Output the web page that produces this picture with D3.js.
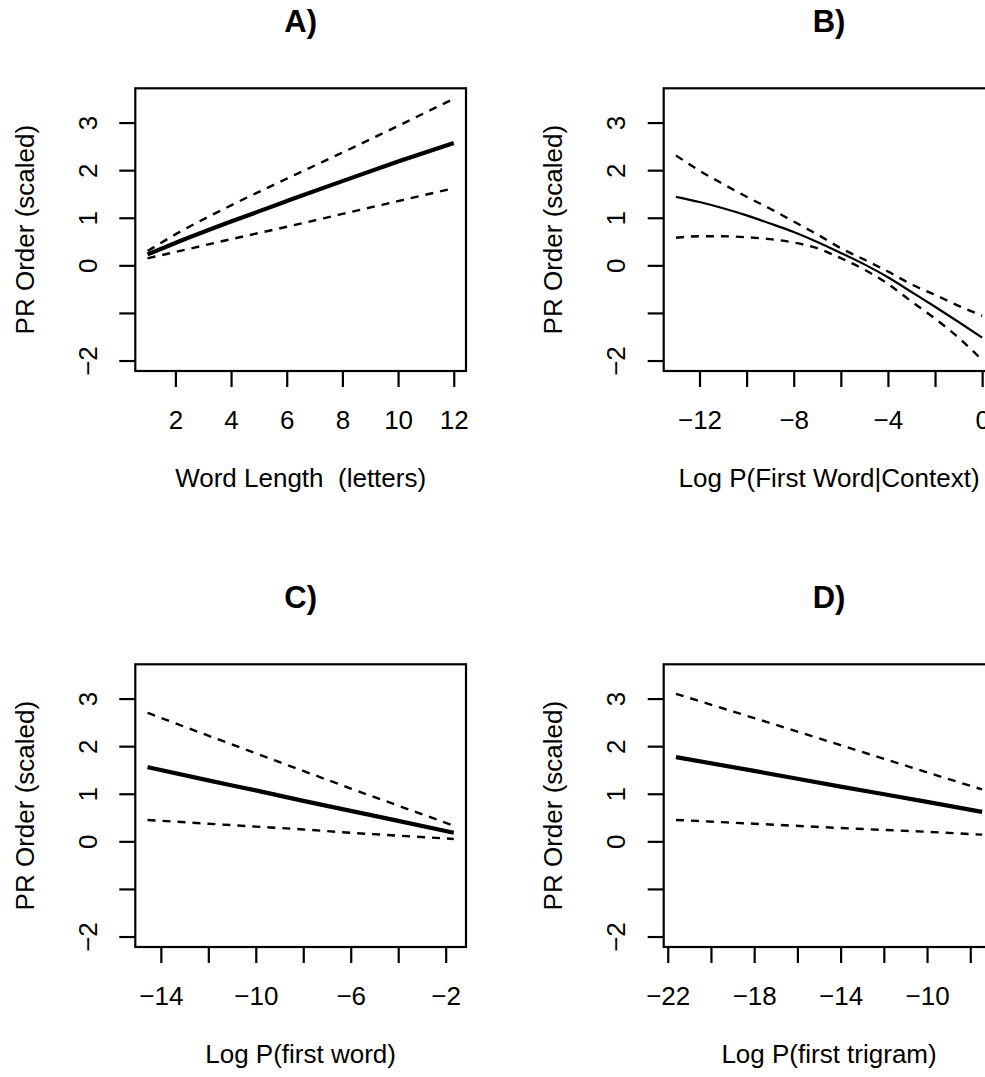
<!DOCTYPE html>
<html>
<head>
<meta charset="utf-8">
<script src="https://cdnjs.cloudflare.com/ajax/libs/d3/7.8.5/d3.min.js"></script>
<style>
body{margin:0;background:#fff;}
svg{display:block;background:#fff;}
text{font-family:'Liberation Sans',Arial,Helvetica,sans-serif;fill:#000;}
</style>
</head>
<body>
<svg id="panels" width="985" height="1077"></svg>
<script>

// shared y axis
var yLimits = [-2, 3.5];
var yTicks = [-2, -1, 0, 1, 2, 3];
var yTickLabels = ['\u22122', '', '0', '1', '2', '3'];
var yTitle = 'PR Order (scaled)';

// A) word length
var lengthX     = [1, 2, 4, 6, 8, 10, 12];
var lengthFit   = [0.23, 0.47, 0.92, 1.35, 1.77, 2.18, 2.57];
var lengthUpper = [0.30, 0.65, 1.26, 1.82, 2.37, 2.93, 3.50];
var lengthLower = [0.15, 0.28, 0.55, 0.81, 1.08, 1.35, 1.62];
var lengthTicks = [2, 4, 6, 8, 10, 12];
var lengthTickLabels = ['2', '4', '6', '8', '10', '12'];

// B) log P(first word | context)
var contextX     = [-13, -12, -11, -10, -9, -8, -7, -6, -5, -4, -3, -2, -1, 0];
var contextFit   = [1.44, 1.33, 1.20, 1.05, 0.88, 0.70, 0.49, 0.26, 0.02, -0.25, -0.56, -0.87, -1.19, -1.52];
var contextUpper = [2.31, 1.99, 1.71, 1.44, 1.19, 0.92, 0.65, 0.36, 0.12, -0.13, -0.40, -0.62, -0.85, -1.06];
var contextLower = [0.58, 0.61, 0.61, 0.59, 0.55, 0.48, 0.36, 0.15, -0.09, -0.39, -0.76, -1.12, -1.52, -1.99];
var contextTicks = [-12, -10, -8, -6, -4, -2, 0];
var contextTickLabels = ['\u221212', '', '\u22128', '', '\u22124', '', '0'];

// C) log P(first word)
var wordX     = [-14.56, -12, -10, -8, -6, -4, -1.66];
var wordFit   = [1.56, 1.28, 1.07, 0.85, 0.64, 0.43, 0.18];
var wordUpper = [2.70, 2.22, 1.85, 1.48, 1.11, 0.75, 0.33];
var wordLower = [0.45, 0.37, 0.31, 0.25, 0.18, 0.12, 0.05];
var wordTicks = [-14, -12, -10, -8, -6, -4, -2];
var wordTickLabels = ['\u221214', '', '\u221210', '', '\u22126', '', '\u22122'];

// D) log P(first trigram)
var trigramX     = [-21.62, -18, -14, -10, -7.45];
var trigramFit   = [1.77, 1.48, 1.15, 0.83, 0.62];
var trigramUpper = [3.10, 2.59, 2.02, 1.45, 1.09];
var trigramLower = [0.45, 0.37, 0.28, 0.20, 0.14];
var trigramTicks = [-22, -20, -18, -16, -14, -12, -10, -8];
var trigramTickLabels = ['\u221222', '', '\u221218', '', '\u221214', '', '\u221210', ''];

//--------------------------------------------------

var plotW = 330.7;
var plotH = 282.7;
var tickLen = 16;

function padded(lo, hi){
	var d = (hi - lo) * 0.04;
	return [lo - d, hi + d];
}

function makePanel(svg, p){

	var x = d3.scaleLinear()
				.domain(padded(d3.min(p.xs), d3.max(p.xs)))
				.range([0, plotW]);
	var y = d3.scaleLinear()
				.domain(padded(yLimits[0], yLimits[1]))
				.range([plotH, 0]);

	var g = svg.append('g')
				.attr('transform', 'translate(' + p.left + ',' + p.top + ')');

	var line = function(vals){
		return d3.line()
				.x(function(d, i){ return x(p.xs[i]) })
				.y(function(d){ return y(d) })
				.curve(d3.curveMonotoneX)(vals);
	};

	// bands
	[p.upper, p.lower].forEach(function(vals){
		g.append('path')
			.attr('d', line(vals))
			.attr('fill', 'none')
			.attr('stroke', '#000')
			.attr('stroke-width', 2.4)
			.attr('stroke-dasharray', '8,7');
	});

	g.append('path')
		.attr('d', line(p.fit))
		.attr('fill', 'none')
		.attr('stroke', '#000')
		.attr('stroke-width', p.fitWidth);

	g.append('rect')
		.attr('width', plotW)
		.attr('height', plotH)
		.attr('fill', 'none')
		.attr('stroke', '#000')
		.attr('stroke-width', 2.2);

	var xAxis = g.append('g')
		.attr('transform', 'translate(0,' + plotH + ')')
		.call(d3.axisBottom(x)
				.tickValues(p.ticks)
				.tickSize(tickLen)
				.tickPadding(23.5)
				.tickFormat(function(d, i){ return p.tickLabels[i] }));
	xAxis.select('.domain').remove();
	xAxis.attr('font-size', 26).attr('font-family', null);
	xAxis.selectAll('line').attr('stroke-width', 2.2);

	var yAxis = g.append('g')
		.call(d3.axisLeft(y)
				.tickValues(yTicks)
				.tickSize(tickLen)
				.tickFormat(function(d, i){ return yTickLabels[i] }));
	yAxis.select('.domain').remove();
	yAxis.attr('font-size', 26).attr('font-family', null);
	yAxis.selectAll('line').attr('stroke-width', 2.2);
	yAxis.selectAll('text')
		.attr('x', 0)
		.attr('dy', null)
		.attr('text-anchor', 'middle')
		.attr('transform', 'translate(-38.6,0) rotate(-90)');

	g.append('text')
		.attr('x', plotW / 2)
		.attr('y', -56)
		.attr('text-anchor', 'middle')
		.style('font-size', '31px')
		.style('font-weight', 'bold')
		.text(p.title);

	g.append('text')
		.attr('x', plotW / 2)
		.attr('y', plotH + 115.7)
		.attr('text-anchor', 'middle')
		.style('font-size', '26px')
		.style('white-space', 'pre')
		.text(p.xTitle);

	g.append('text')
		.attr('text-anchor', 'middle')
		.attr('transform', 'translate(-101.7,' + (plotH / 2) + ') rotate(-90)')
		.style('font-size', '26px')
		.text(yTitle);
}

var svg = d3.select('#panels');

makePanel(svg, { left: 135.3, top: 88.3, title: 'A)', xTitle: 'Word Length  (letters)',
	xs: lengthX, fit: lengthFit, upper: lengthUpper, lower: lengthLower,
	ticks: lengthTicks, tickLabels: lengthTickLabels, fitWidth: 4.2 });

makePanel(svg, { left: 663.7, top: 88.3, title: 'B)', xTitle: 'Log P(First Word|Context)',
	xs: contextX, fit: contextFit, upper: contextUpper, lower: contextLower,
	ticks: contextTicks, tickLabels: contextTickLabels, fitWidth: 2.2 });

makePanel(svg, { left: 135.3, top: 664.3, title: 'C)', xTitle: 'Log P(first word)',
	xs: wordX, fit: wordFit, upper: wordUpper, lower: wordLower,
	ticks: wordTicks, tickLabels: wordTickLabels, fitWidth: 4.2 });

makePanel(svg, { left: 663.7, top: 664.3, title: 'D)', xTitle: 'Log P(first trigram)',
	xs: trigramX, fit: trigramFit, upper: trigramUpper, lower: trigramLower,
	ticks: trigramTicks, tickLabels: trigramTickLabels, fitWidth: 4.2 });

</script>
</body>
</html>
